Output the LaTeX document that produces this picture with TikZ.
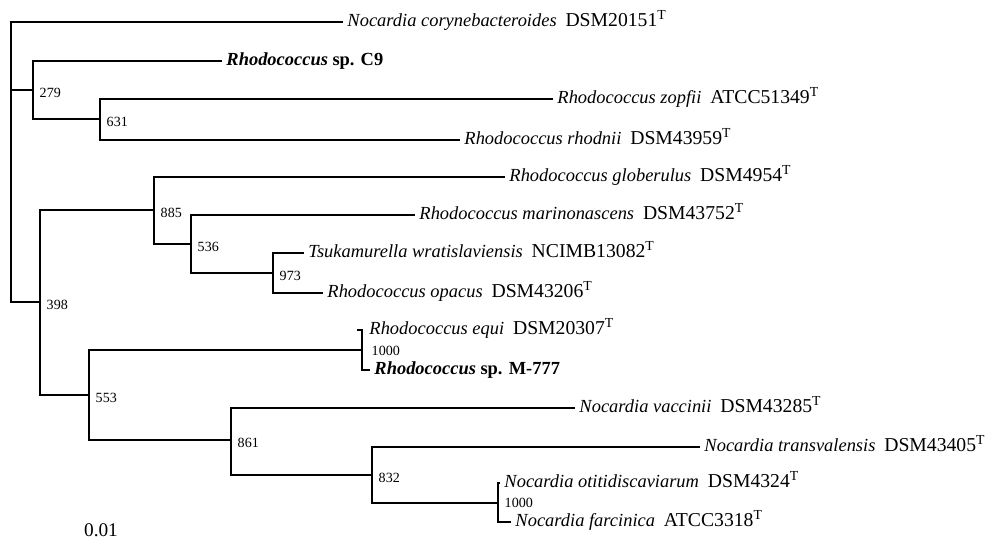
\documentclass[tikz,border=0pt]{standalone}
\usepackage{fontspec}
\setmainfont{Liberation Serif}
% italic name, then the strain with its type mark
\newcommand{\taxon}[2]{{\fontsize{10.5}{12}\selectfont\textit{#1}}\hspace{.45em}#2\textsuperscript{T}}
\begin{document}
\begin{tikzpicture}
  [x=0.02cm,y=-0.02cm,line width=1.1pt,
   leaf/.style={anchor=west,inner xsep=2pt,inner ysep=.5pt,font=\fontsize{11.2}{13}\selectfont,text height=1.3ex,text depth=.2ex},
   ownleaf/.style={leaf,font=\fontsize{10.5}{12}\selectfont\bfseries},
   boot/.style={anchor=west,inner sep=1pt,font=\fontsize{8}{9}\selectfont,xshift=0.08cm,yshift=-0.05cm}]
  \useasboundingbox (0,0) rectangle (993,545);

  % inner nodes of the tree
  \coordinate (n0) at (11,162);
  \coordinate (n279) at (33,90);
  \coordinate (n631) at (100,119);
  \coordinate (n398) at (40,302);
  \coordinate (n885) at (154,210);
  \coordinate (n536) at (191,244);
  \coordinate (n973) at (273,273);
  \coordinate (n553) at (89,395);
  \coordinate (nA) at (362,350);
  \coordinate (n861) at (231,440);
  \coordinate (n832) at (372,475);
  \coordinate (nB) at (498,503);
  \coordinate (tick) at (357,330);

  % leaves
  \node[leaf] (l1) at (343,22) {\taxon{Nocardia corynebacteroides}{DSM20151}};
  \node[ownleaf] (l2) at (222,61) {\textit{Rhodococcus} sp. C9};
  \node[leaf] (l3) at (553,99) {\taxon{Rhodococcus zopfii}{ATCC51349}};
  \node[leaf] (l4) at (460,140) {\taxon{Rhodococcus rhodnii}{DSM43959}};
  \node[leaf] (l5) at (505,177) {\taxon{Rhodococcus globerulus}{DSM4954}};
  \node[leaf] (l6) at (415,215) {\taxon{Rhodococcus marinonascens}{DSM43752}};
  \node[leaf] (l7) at (304,253) {\taxon{Tsukamurella wratislaviensis}{NCIMB13082}};
  \node[leaf] (l8) at (323,293) {\taxon{Rhodococcus opacus}{DSM43206}};
  \node[leaf] (l9) at (365,330) {\taxon{Rhodococcus equi}{DSM20307}};
  \node[ownleaf] (l10) at (370,370) {\textit{Rhodococcus} sp. M-777};
  \node[leaf] (l11) at (575,408) {\taxon{Nocardia vaccinii}{DSM43285}};
  \node[leaf] (l12) at (700,447) {\taxon{Nocardia transvalensis}{DSM43405}};
  \node[leaf] (l13) at (500,483) {\taxon{Nocardia otitidiscaviarum}{DSM4324}};
  \node[leaf] (l14) at (511,522) {\taxon{Nocardia farcinica}{ATCC3318}};

  % bootstrap values
  \node[boot] (b279) at (n279) {279};
  \node[boot] (b631) at (n631) {631};
  \node[boot] (b398) at (n398) {398};
  \node[boot] (b885) at (n885) {885};
  \node[boot] (b536) at (n536) {536};
  \node[boot] (b973) at (n973) {973};
  \node[boot] (b553) at (n553) {553};
  \node[boot,xshift=0.06cm,yshift=0.03cm] (bA) at (nA) {1000};
  \node[boot] (b861) at (n861) {861};
  \node[boot] (b832) at (n832) {832};
  \node[boot,yshift=0.06cm] (bB) at (nB) {1000};

  \foreach \from/\to in {n0/l1, n0/n279, n0/n398, n279/l2, n279/n631, n631/l3, n631/l4,
      n398/n885, n398/n553, n885/l5, n885/n536, n536/l6, n536/n973, n973/l7, n973/l8,
      n553/nA, n553/n861, nA/l10, n861/l11, n861/n832, n832/l12, n832/nB, nB/l13, nB/l14}
    \draw (\from) |- (\to);
  \draw (tick) -| (nA);

  \node[font=\fontsize{11}{13}\selectfont] (scale) at (101,530) {0.01};
\end{tikzpicture}
\end{document}
